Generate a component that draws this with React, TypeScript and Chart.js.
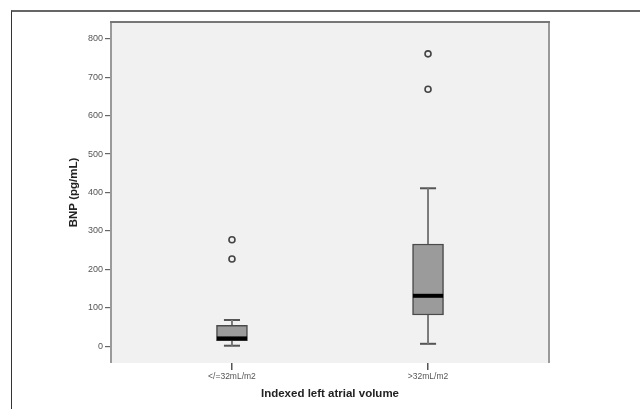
import React, { useEffect, useRef } from 'react';
import { Chart, registerables } from 'chart.js';

Chart.register(...registerables);

const categories = ['</=32mL/m2', '>32mL/m2'];
const whiskerLow = [1, 6];
const quartile1 = [14, 81];
const medians = [20, 131];
const quartile3 = [54, 266];
const whiskerHigh = [68, 411];
const outliers = [
  [227, 277],
  [669, 761],
];
const yTicks = [0, 100, 200, 300, 400, 500, 600, 700, 800];

const BOX_HALF = 0.077;
const CAP_HALF = 0.041;

const plotFrame = {
  id: 'plotFrame',
  beforeDraw(chart: any) {
    const { ctx, chartArea: a } = chart;
    ctx.save();
    ctx.fillStyle = '#f1f1f1';
    ctx.fillRect(a.left, a.top, a.right - a.left, a.bottom - a.top);
    ctx.restore();
  },
  afterDatasetsDraw(chart: any) {
    const { ctx, chartArea: a } = chart;
    ctx.save();
    ctx.lineWidth = 2;
    ctx.strokeStyle = '#9a9a9a';
    ctx.beginPath();
    ctx.moveTo(a.left, a.top);
    ctx.lineTo(a.left, a.bottom);
    ctx.moveTo(a.right, a.top);
    ctx.lineTo(a.right, a.bottom);
    ctx.stroke();
    ctx.strokeStyle = '#777';
    ctx.beginPath();
    ctx.moveTo(a.left - 1, a.top);
    ctx.lineTo(a.right + 1, a.top);
    ctx.stroke();
    ctx.restore();
  },
};

export default function App() {
  const ref = useRef<HTMLCanvasElement>(null);

  useEffect(() => {
    if (!ref.current) return;
    const datasets: any[] = [];

    // whiskers
    categories.forEach((_, i) => {
      datasets.push({
        type: 'line',
        data: [
          { x: i, y: whiskerLow[i] },
          { x: i, y: quartile1[i] },
        ],
        borderColor: '#7a7a7a',
        borderWidth: 2,
        pointRadius: 0,
        fill: false,
        order: 4,
      });
      datasets.push({
        type: 'line',
        data: [
          { x: i, y: quartile3[i] },
          { x: i, y: whiskerHigh[i] },
        ],
        borderColor: '#7a7a7a',
        borderWidth: 2,
        pointRadius: 0,
        fill: false,
        order: 4,
      });
      datasets.push({
        type: 'line',
        data: [
          { x: i - CAP_HALF, y: whiskerLow[i] },
          { x: i + CAP_HALF, y: whiskerLow[i] },
        ],
        borderColor: '#555',
        borderWidth: 2,
        pointRadius: 0,
        fill: false,
        order: 4,
      });
      datasets.push({
        type: 'line',
        data: [
          { x: i - CAP_HALF, y: whiskerHigh[i] },
          { x: i + CAP_HALF, y: whiskerHigh[i] },
        ],
        borderColor: '#555',
        borderWidth: 2,
        pointRadius: 0,
        fill: false,
        order: 4,
      });
    });

    // boxes
    datasets.push({
      type: 'bar',
      data: categories.map((_, i) => ({ x: i, y: [quartile1[i], quartile3[i]] })),
      backgroundColor: '#9b9b9b',
      borderColor: '#4a4a4a',
      borderWidth: 1.5,
      borderSkipped: false,
      barThickness: 31,
      order: 3,
    });

    // medians
    categories.forEach((_, i) => {
      datasets.push({
        type: 'line',
        data: [
          { x: i - BOX_HALF, y: medians[i] },
          { x: i + BOX_HALF, y: medians[i] },
        ],
        borderColor: '#000',
        borderWidth: 4,
        pointRadius: 0,
        fill: false,
        order: 2,
      });
    });

    // outliers
    datasets.push({
      type: 'scatter',
      data: outliers.flatMap((vals, i) => vals.map((v) => ({ x: i, y: v }))),
      pointStyle: 'circle',
      pointRadius: 3,
      borderColor: '#444',
      borderWidth: 1.6,
      backgroundColor: 'rgba(0,0,0,0)',
      order: 1,
    });

    const chart = new Chart(ref.current, {
      type: 'bar',
      data: { datasets },
      plugins: [plotFrame],
      options: {
        responsive: false,
        animation: false,
        events: [],
        layout: { padding: { left: 0, right: 91, top: 22, bottom: 0 } },
        plugins: {
          legend: { display: false },
          tooltip: { enabled: false },
        },
        scales: {
          x: {
            type: 'linear',
            min: -0.617,
            max: 1.617,
            offset: false,
            afterBuildTicks: (s: any) => {
              s.ticks = categories.map((_, i) => ({ value: i }));
            },
            afterFit: (s: any) => {
              s.height = 46;
            },
            grid: {
              offset: false,
              drawOnChartArea: false,
              drawTicks: true,
              tickLength: 7,
              color: '#555',
              lineWidth: 1.5,
            },
            border: { display: false },
            ticks: {
              autoSkip: false,
              maxRotation: 0,
              padding: 2,
              color: '#555',
              font: { family: 'Liberation Sans, Arial, sans-serif', size: 8.5 },
              callback: (v: any) => categories[v] ?? '',
            },
            title: {
              display: true,
              text: 'Indexed left atrial volume',
              color: '#222',
              font: { family: 'Liberation Sans, Arial, sans-serif', size: 11.5, weight: 'bold' },
              padding: { top: 0, bottom: 8 },
            },
          },
          y: {
            type: 'linear',
            min: -44,
            max: 844,
            afterBuildTicks: (s: any) => {
              s.ticks = yTicks.map((v) => ({ value: v }));
            },
            afterFit: (s: any) => {
              s.width = 111;
            },
            grid: {
              drawOnChartArea: false,
              drawTicks: true,
              tickLength: 6,
              color: '#666',
              lineWidth: 1.2,
            },
            border: { display: false },
            ticks: {
              padding: 2,
              color: '#555',
              font: { family: 'Liberation Sans, Arial, sans-serif', size: 9 },
            },
            title: {
              display: true,
              text: 'BNP (pg/mL)',
              color: '#222',
              font: { family: 'Liberation Sans, Arial, sans-serif', size: 11.5, weight: 'bold' },
              padding: { top: 67, bottom: 0 },
            },
          },
        },
      } as any,
    });
    return () => chart.destroy();
  }, []);

  return (
    <div
      style={{
        position: 'absolute',
        left: 0,
        top: 0,
        width: 640,
        height: 409,
        background: '#fff',
        overflow: 'hidden',
      }}
    >
      <canvas ref={ref} width={640} height={409} style={{ display: 'block' }} />
      <div
        style={{
          position: 'absolute',
          left: 11,
          top: 10,
          width: 1000,
          height: 1000,
          borderTop: '2px solid #666',
          borderLeft: '1.5px solid #333',
          pointerEvents: 'none',
        }}
      />
    </div>
  );
}
